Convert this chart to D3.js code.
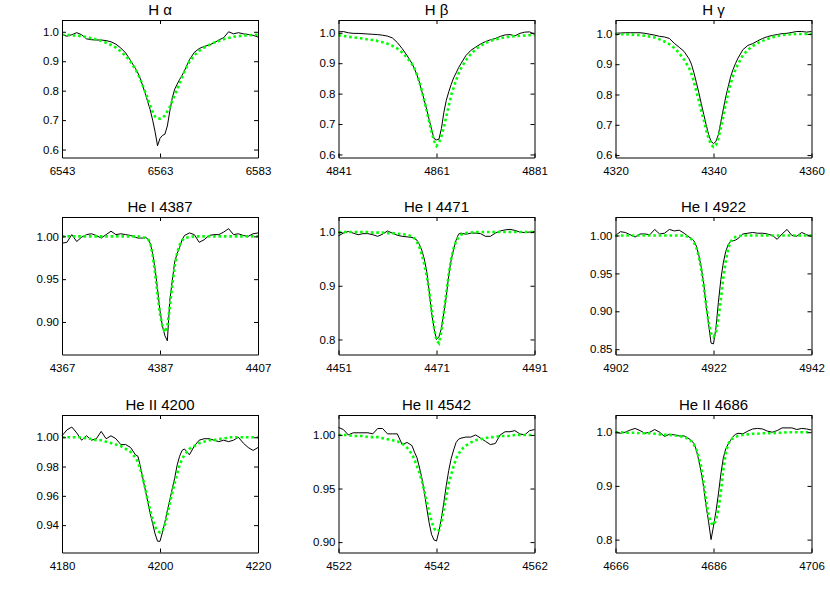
<!DOCTYPE html>
<html>
<head>
<meta charset="utf-8">
<script src="https://cdn.jsdelivr.net/npm/d3@7"></script>
<style>
body { margin: 0; background: #fff; }
svg { font-family: "Liberation Sans", Arial, sans-serif; }
</style>
</head>
<body>
<div id="chart"></div>
<script>
// wavelength offsets from line centre (Angstrom), shared by all panels
var offsets = [-20,-19,-18,-17,-16,-15,-14,-13,-12,-11,-10,-9,-8,-7,-6,
  -5,-4.5,-4,-3.5,-3,-2.5,-2,-1.5,-1,-0.5,0,0.5,1,1.5,2,2.5,3,3.5,4,4.5,5,
  6,7,8,9,10,11,12,13,14,15,16,17,18,19,20];

var titles = ["H \u03b1", "H \u03b2", "H \u03b3", "He I 4387", "He I 4471", "He I 4922", "He II 4200", "He II 4542", "He II 4686"];
var centers = [6563, 4861, 4340, 4387, 4471, 4922, 4200, 4542, 4686];

var yTicks = [
  [0.6, 0.7, 0.8, 0.9, 1.0],
  [0.6, 0.7, 0.8, 0.9, 1.0],
  [0.6, 0.7, 0.8, 0.9, 1.0],
  [0.90, 0.95, 1.00],
  [0.8, 0.9, 1.0],
  [0.85, 0.90, 0.95, 1.00],
  [0.94, 0.96, 0.98, 1.00],
  [0.90, 0.95, 1.00],
  [0.8, 0.9, 1.0]
];
var yFormats = [".1f", ".1f", ".1f", ".2f", ".1f", ".2f", ".2f", ".2f", ".1f"];
var yLimits = [
  [0.573, 1.040], [0.590, 1.042], [0.592, 1.046],
  [0.862, 1.0226], [0.772, 1.028], [0.843, 1.0244],
  [0.9213, 1.0152], [0.8903, 1.0186], [0.776, 1.032]
];

// observed (black) and model (green dotted) normalised flux
var haObs = [0.990,0.985,0.990,0.997,0.990,0.976,0.973,0.972,0.972,0.970,0.966,0.958,0.945,0.928,0.902,
  0.875,0.860,0.840,0.815,0.790,0.762,0.735,0.700,0.660,0.613,0.638,0.648,0.652,0.680,0.730,0.775,0.805,0.822,0.838,0.852,0.868,
  0.905,0.930,0.943,0.950,0.955,0.962,0.972,0.980,1.000,0.993,0.997,0.993,0.991,0.988,0.982];
var haMod = [0.990,0.990,0.988,0.987,0.985,0.982,0.978,0.974,0.969,0.963,0.955,0.946,0.933,0.918,0.898,
  0.872,0.856,0.838,0.817,0.795,0.772,0.750,0.728,0.712,0.706,0.705,0.708,0.716,0.730,0.745,0.765,0.785,0.805,0.825,0.845,0.865,
  0.898,0.920,0.935,0.946,0.955,0.963,0.969,0.975,0.979,0.983,0.985,0.987,0.988,0.989,0.990];

var hbObs = [1.003,1.004,1.000,0.998,0.998,0.997,0.996,0.995,0.994,0.992,0.989,0.983,0.968,0.948,0.925,
  0.899,0.882,0.862,0.838,0.808,0.778,0.748,0.715,0.682,0.652,0.648,0.650,0.685,0.738,0.778,0.806,0.830,0.852,0.868,0.885,0.899,
  0.925,0.942,0.953,0.963,0.971,0.977,0.981,0.988,0.993,0.994,0.990,0.998,1.002,1.003,0.995];
var hbMod = [0.992,0.990,0.987,0.985,0.983,0.981,0.978,0.976,0.973,0.969,0.964,0.957,0.948,0.935,0.918,
  0.897,0.883,0.863,0.838,0.810,0.778,0.744,0.708,0.674,0.645,0.628,0.638,0.660,0.690,0.725,0.760,0.795,0.820,0.844,0.866,0.883,
  0.910,0.930,0.946,0.957,0.967,0.973,0.978,0.982,0.985,0.987,0.989,0.990,0.991,0.992,0.992];

var hgObs = [1.002,1.003,1.004,1.004,1.004,1.004,1.002,0.999,0.996,0.992,0.990,0.985,0.969,0.956,0.942,
  0.918,0.900,0.872,0.840,0.806,0.770,0.735,0.700,0.668,0.645,0.638,0.645,0.668,0.710,0.752,0.792,0.826,0.859,0.883,0.903,0.920,
  0.948,0.962,0.968,0.977,0.985,0.991,0.995,0.998,1.001,1.002,1.005,1.008,1.008,1.006,1.008];
var hgMod = [1.000,0.999,0.999,0.998,0.997,0.996,0.994,0.991,0.988,0.982,0.975,0.966,0.954,0.937,0.915,
  0.888,0.868,0.842,0.810,0.780,0.745,0.718,0.683,0.655,0.634,0.627,0.633,0.655,0.690,0.728,0.770,0.805,0.836,0.862,0.883,0.900,
  0.930,0.947,0.960,0.970,0.977,0.983,0.989,0.993,0.996,0.998,0.999,1.000,1.000,1.000,1.000];

var he4387Obs = [0.992,0.993,1.002,0.994,0.999,1.002,1.003,1.001,0.998,1.002,1.006,1.002,1.003,1.002,1.001,
  0.999,0.998,0.998,0.998,0.999,0.997,0.992,0.980,0.962,0.938,0.913,0.895,0.884,0.878,0.925,0.948,0.970,0.980,0.987,0.996,1.001,
  1.004,1.002,0.993,0.996,1.001,1.002,1.002,1.005,1.009,1.002,1.003,1.001,1.000,1.003,1.004];
var he4387Mod = [1.000,1.000,1.000,1.000,1.000,1.000,1.000,1.000,1.000,1.000,1.000,1.000,1.000,1.000,1.000,
  1.000,1.000,0.999,0.999,0.998,0.997,0.993,0.978,0.957,0.932,0.909,0.895,0.888,0.895,0.918,0.943,0.965,0.981,0.990,0.995,0.998,
  0.999,1.000,1.000,1.000,1.000,1.000,1.000,1.000,1.000,1.000,1.000,1.000,1.000,1.000,1.000];

var he4471Obs = [0.993,0.998,1.001,0.998,0.995,0.997,0.997,0.995,0.992,0.996,1.002,0.998,0.994,0.992,0.991,
  0.990,0.988,0.985,0.977,0.966,0.950,0.927,0.890,0.850,0.820,0.800,0.805,0.820,0.850,0.880,0.920,0.948,0.968,0.985,0.996,0.998,
  0.996,0.998,0.998,0.997,0.992,0.992,0.998,1.002,1.004,1.005,1.003,1.000,0.999,1.000,1.001];
var he4471Mod = [0.999,1.000,1.000,1.000,1.000,1.000,1.000,0.999,0.999,0.999,0.998,0.998,0.997,0.996,0.995,
  0.992,0.988,0.982,0.972,0.958,0.940,0.918,0.890,0.855,0.822,0.798,0.793,0.815,0.850,0.887,0.922,0.950,0.970,0.983,0.990,0.995,
  0.998,0.999,1.000,1.000,1.000,1.000,1.000,1.000,1.000,1.000,1.000,1.000,1.000,1.000,1.000];

var he4922Obs = [1.000,1.005,1.004,1.001,0.998,1.002,1.002,1.001,1.008,1.002,1.003,1.008,1.006,1.007,1.003,
  0.998,0.996,0.993,0.986,0.974,0.958,0.937,0.908,0.883,0.858,0.857,0.878,0.912,0.942,0.964,0.979,0.988,0.992,0.993,0.994,0.996,
  1.002,1.003,1.004,1.003,1.003,1.002,1.000,0.995,1.002,1.008,1.000,0.999,1.004,1.001,0.999];
var he4922Mod = [1.000,1.000,1.000,1.000,1.000,1.000,1.000,1.000,1.000,1.000,1.000,1.000,1.000,1.000,1.000,
  0.998,0.995,0.991,0.984,0.972,0.955,0.933,0.908,0.886,0.871,0.866,0.872,0.890,0.916,0.944,0.966,0.983,0.992,0.996,0.998,0.999,
  1.000,1.000,1.000,1.000,1.000,1.000,1.000,1.000,1.000,1.000,1.000,1.000,1.000,1.000,1.000];

var he4200Obs = [1.001,1.005,1.007,1.003,0.998,1.001,0.998,0.999,1.004,0.999,1.001,0.999,0.995,0.995,0.993,
  0.988,0.987,0.980,0.972,0.964,0.956,0.948,0.941,0.934,0.929,0.929,0.935,0.942,0.950,0.957,0.965,0.972,0.981,0.987,0.991,0.992,
  0.988,0.994,0.998,0.999,0.999,0.998,0.997,0.998,0.997,0.998,1.000,0.996,0.993,0.991,0.993];
var he4200Mod = [1.000,1.000,1.000,1.000,1.000,0.999,0.999,0.998,0.998,0.997,0.996,0.995,0.994,0.992,0.990,
  0.986,0.983,0.978,0.972,0.965,0.957,0.950,0.944,0.939,0.936,0.935,0.936,0.940,0.947,0.955,0.962,0.969,0.975,0.981,0.985,0.988,
  0.992,0.994,0.996,0.997,0.998,0.998,0.999,0.999,1.000,1.000,1.000,1.000,1.000,1.000,1.000];

var he4542Obs = [1.007,1.005,1.000,1.002,1.002,1.002,1.002,1.001,1.006,1.006,1.001,1.001,1.001,0.991,0.993,
  0.990,0.984,0.979,0.970,0.960,0.947,0.932,0.918,0.907,0.902,0.901,0.910,0.922,0.937,0.953,0.967,0.978,0.986,0.993,0.996,0.997,
  0.998,0.998,1.000,0.997,0.994,0.991,0.992,1.000,1.003,1.003,1.004,1.001,1.000,1.004,1.005];
var he4542Mod = [1.000,1.000,1.000,0.999,0.999,0.999,0.998,0.998,0.998,0.997,0.996,0.995,0.994,0.992,0.988,
  0.982,0.977,0.971,0.965,0.957,0.948,0.938,0.928,0.919,0.913,0.910,0.911,0.919,0.930,0.942,0.955,0.963,0.971,0.978,0.982,0.986,
  0.990,0.993,0.995,0.996,0.997,0.998,0.998,0.999,0.999,0.999,1.000,1.000,1.000,1.000,1.000];

var he4686Obs = [1.000,0.998,1.000,1.004,1.007,1.003,0.998,1.000,1.005,1.000,0.992,0.996,0.995,0.993,0.993,
  0.988,0.984,0.979,0.967,0.947,0.925,0.897,0.862,0.833,0.800,0.825,0.852,0.885,0.922,0.952,0.969,0.978,0.985,0.992,0.996,0.998,
  0.997,1.002,1.006,1.007,1.006,1.002,1.000,1.003,1.008,1.008,1.008,1.005,1.007,1.006,1.004];
var he4686Mod = [1.000,1.000,0.999,0.999,0.999,0.998,0.998,0.998,0.997,0.996,0.995,0.995,0.994,0.993,0.991,
  0.987,0.983,0.977,0.968,0.953,0.935,0.905,0.872,0.846,0.831,0.827,0.836,0.856,0.889,0.930,0.961,0.978,0.986,0.989,0.991,0.993,
  0.995,0.996,0.997,0.997,0.998,0.998,0.998,0.999,0.999,1.000,1.000,1.000,1.000,1.000,1.000];

var observed = [haObs, hbObs, hgObs, he4387Obs, he4471Obs, he4922Obs, he4200Obs, he4542Obs, he4686Obs];
var model = [haMod, hbMod, hgMod, he4387Mod, he4471Mod, he4922Mod, he4200Mod, he4542Mod, he4686Mod];

// layout of the 3x3 grid
var colX = [62, 338.5, 615.5],
    rowY = [20, 217, 415],
    pw = 196,
    ph = 137.5;

var svg = d3.select("#chart")
  .append("svg")
  .attr("width", 830)
  .attr("height", 593);

titles.forEach(function (title, i) {
  var c = centers[i];
  var g = svg.append("g")
    .attr("transform", "translate(" + colX[i % 3] + "," + rowY[Math.floor(i / 3)] + ")");

  var x = d3.scaleLinear().domain([c - 20, c + 20]).range([0, pw]);
  var y = d3.scaleLinear().domain(yLimits[i]).range([ph, 0]);

  var line = d3.line()
    .x(function (d, j) { return x(c + offsets[j]); })
    .y(function (d) { return y(d); });

  // observed spectrum
  g.append("path")
    .datum(observed[i])
    .attr("fill", "none")
    .attr("stroke", "#000")
    .attr("stroke-width", 1)
    .attr("d", line);

  // model spectrum
  g.append("path")
    .datum(model[i])
    .attr("fill", "none")
    .attr("stroke", "#00ff00")
    .attr("stroke-width", 2.6)
    .attr("stroke-dasharray", "2.6,2.8")
    .attr("d", line);

  var xt = [c - 20, c, c + 20];

  g.append("g")
    .attr("transform", "translate(0," + ph + ")")
    .call(d3.axisBottom(x).tickValues(xt).tickSize(-4).tickSizeOuter(0).tickPadding(9).tickFormat(d3.format("d")));
  g.append("g")
    .call(d3.axisTop(x).tickValues(xt).tickSize(-4).tickSizeOuter(0).tickFormat(""));
  g.append("g")
    .call(d3.axisLeft(y).tickValues(yTicks[i]).tickSize(-4).tickSizeOuter(0).tickPadding(3).tickFormat(d3.format(yFormats[i])));
  g.append("g")
    .attr("transform", "translate(" + pw + ",0)")
    .call(d3.axisRight(y).tickValues(yTicks[i]).tickSize(-4).tickSizeOuter(0).tickFormat(""));

  g.selectAll(".tick text")
    .attr("fill", "#000")
    .style("font-size", "11.5px");
  g.selectAll(".domain, .tick line")
    .attr("stroke", "#000");

  g.append("text")
    .attr("x", pw / 2)
    .attr("y", -5)
    .attr("text-anchor", "middle")
    .style("font-size", "15px")
    .style("font-weight", "normal")
    .text(title);
});
</script>
</body>
</html>
